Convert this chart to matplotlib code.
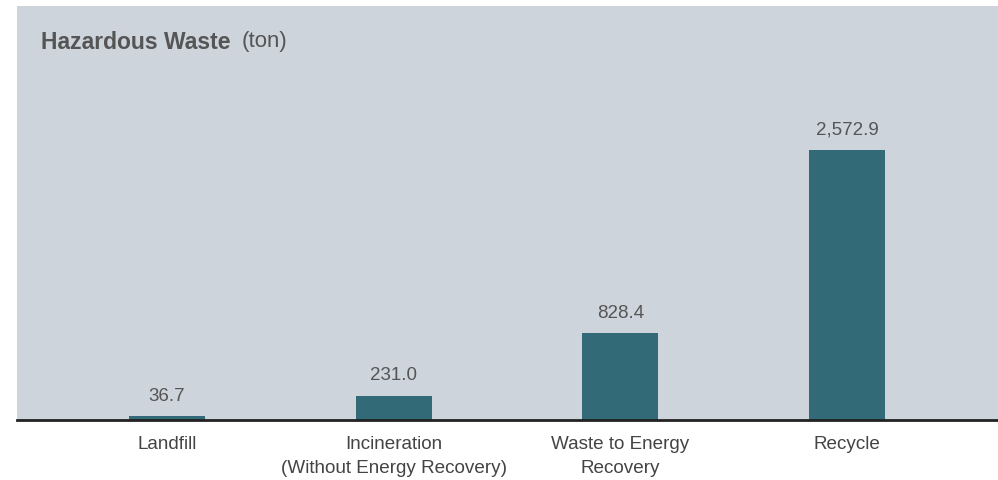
import matplotlib
matplotlib.use("Agg")
import matplotlib.pyplot as plt

plt.rcParams["font.family"] = ["Liberation Sans", "DejaVu Sans"]

categories = ["Landfill", "Incineration\n(Without Energy Recovery)",
              "Waste to Energy\nRecovery", "Recycle"]
values = [36.7, 231.0, 828.4, 2572.9]
value_labels = ["36.7", "231.0", "828.4", "2,572.9"]

BG = "#cdd4db"
BAR = "#326a77"
TXT = "#555555"

fig = plt.figure(figsize=(9.98, 4.81), dpi=100)
ax = fig.add_axes([17 / 998, 60 / 481, 981 / 998, 414 / 481])
ax.set_facecolor(BG)

x = list(range(len(categories)))
bars = ax.bar(x, values, width=0.335, color=BAR, zorder=2)
ax.set_xlim(-0.662, 3.666)
ax.set_ylim(0, 3945)

for b, lab in zip(bars, value_labels):
    ax.annotate(lab, (b.get_x() + b.get_width() / 2, b.get_height()),
                xytext=(0, 9), textcoords="offset points",
                ha="center", va="bottom", fontsize=13.5, color=TXT)

ax.set_xticks(x)
ax.set_xticklabels(categories, fontsize=13.6, color="#444444", linespacing=1.55)
ax.tick_params(axis="x", length=0, pad=10.5)
ax.set_yticks([])
for s in ["top", "right", "left"]:
    ax.spines[s].set_visible(False)
ax.spines["bottom"].set_color("#222222")
ax.spines["bottom"].set_linewidth(2)
ax.spines["bottom"].set_zorder(3)

t1 = fig.text(41 / 998, 1 - 31 / 481, "Hazardous Waste", fontsize=16.5,
              fontweight="bold", color=TXT, va="top", ha="left")
fig.canvas.draw()
bb = t1.get_window_extent()
fig.text((bb.x1 + 11) / 998, 1 - 31 / 481, "(ton)", fontsize=16,
         color=TXT, va="top", ha="left")

fig.savefig("out.png", dpi=100, facecolor="white")
